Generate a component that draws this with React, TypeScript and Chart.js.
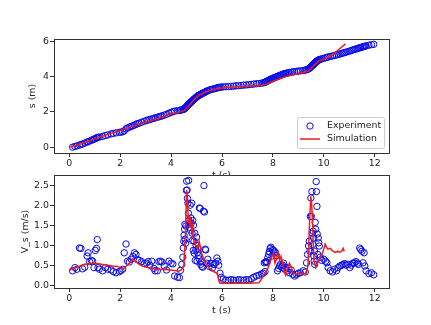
import React, { useEffect, useRef } from "react";
import { Chart, registerables } from "chart.js";
Chart.register(...registerables);

const xTicks = [0, 2, 4, 6, 8, 10, 12];
const sTicks = [0, 2, 4, 6];
const vTicks = [0, 0.5, 1, 1.5, 2, 2.5];

const expT = [
  0.13,0.22,0.30,0.40,0.46,0.52,0.61,0.70,0.74,0.80,
  0.87,0.92,0.97,1.02,1.07,1.10,1.13,1.18,1.31,1.42,
  1.51,1.64,1.73,1.84,1.97,2.03,2.10,2.16,2.23,2.29,
  2.36,2.43,2.50,2.56,2.62,2.68,2.75,2.84,2.95,3.04,
  3.10,3.17,3.24,3.32,3.37,3.46,3.52,3.58,3.64,3.73,
  3.82,3.92,4.00,4.07,4.14,4.25,4.33,4.37,4.42,4.46,
  4.48,4.50,4.51,4.53,4.54,4.55,4.57,4.58,4.60,4.61,
  4.63,4.64,4.66,4.68,4.69,4.70,4.72,4.73,4.75,4.76,
  4.78,4.79,4.81,4.82,4.84,4.85,4.87,4.88,4.90,4.91,
  4.93,4.95,4.97,4.98,5.00,5.02,5.04,5.06,5.08,5.10,
  5.11,5.14,5.16,5.18,5.21,5.24,5.27,5.29,5.31,5.34,
  5.36,5.40,5.44,5.50,5.56,5.62,5.68,5.74,5.80,5.84,
  5.87,5.92,5.97,6.05,6.15,6.25,6.35,6.45,6.55,6.65,
  6.75,6.85,6.95,7.05,7.15,7.25,7.35,7.45,7.55,7.62,
  7.66,7.69,7.71,7.74,7.77,7.80,7.83,7.86,7.89,7.92,
  7.96,7.98,8.02,8.06,8.10,8.14,8.18,8.22,8.26,8.30,
  8.34,8.38,8.42,8.46,8.50,8.55,8.60,8.65,8.72,8.78,
  8.85,8.93,9.00,9.08,9.19,9.27,9.32,9.36,9.40,9.43,
  9.45,9.47,9.49,9.51,9.53,9.55,9.57,9.58,9.60,9.61,
  9.62,9.63,9.64,9.66,9.68,9.70,9.71,9.73,9.74,9.76,
  9.78,9.80,9.82,9.86,9.92,10.00,10.07,10.12,10.17,10.25,
  10.34,10.42,10.50,10.56,10.63,10.70,10.76,10.82,10.88,10.95,
  11.02,11.08,11.14,11.20,11.26,11.32,11.36,11.41,11.45,11.50,
  11.54,11.58,11.61,11.66,11.77,11.87,11.96,
];

const expV = [
  0.36,0.44,0.40,0.93,0.92,0.41,0.45,0.73,0.81,0.59,
  0.62,0.60,0.44,0.87,0.92,1.14,0.44,0.40,0.36,0.44,
  0.40,0.38,0.34,0.31,0.34,0.37,0.40,0.81,1.03,0.60,
  0.58,0.65,0.72,0.81,0.77,0.64,0.62,0.59,0.54,0.55,
  0.59,0.50,0.60,0.42,0.36,0.36,0.59,0.60,0.58,0.48,
  0.38,0.60,0.55,0.53,0.23,0.20,0.19,0.37,0.52,0.70,
  0.93,1.10,1.25,1.40,1.52,1.15,1.05,1.48,2.37,2.60,
  2.38,2.17,2.05,1.80,2.62,1.62,1.45,1.55,2.00,1.38,
  1.68,1.55,2.05,1.30,1.12,1.62,0.87,1.50,1.10,0.80,
  1.30,0.62,0.88,1.00,1.20,0.60,0.82,0.92,0.74,0.66,
  1.93,1.92,0.52,0.58,0.47,0.45,1.85,2.49,1.83,0.90,
  0.88,0.55,0.65,0.47,0.55,0.43,0.52,0.55,0.68,0.60,
  0.50,0.30,0.20,0.15,0.13,0.12,0.14,0.13,0.12,0.14,
  0.13,0.12,0.14,0.13,0.16,0.20,0.23,0.25,0.28,0.30,
  0.56,0.34,0.58,0.59,0.57,0.69,0.77,0.84,0.92,0.95,
  0.73,0.89,0.87,0.84,0.81,0.74,0.36,0.42,0.48,0.52,
  0.45,0.50,0.55,0.40,0.45,0.36,0.42,0.31,0.38,0.27,
  0.23,0.27,0.30,0.31,0.36,0.33,0.56,0.77,0.98,1.10,
  0.85,1.72,2.18,1.72,2.34,1.30,1.02,1.35,1.18,0.73,
  0.60,0.85,0.52,1.57,1.40,2.59,2.34,1.97,1.28,0.77,
  1.18,1.06,0.98,0.70,0.62,0.65,0.60,0.56,0.44,0.36,
  0.33,0.40,0.36,0.44,0.48,0.50,0.52,0.54,0.50,0.52,
  0.44,0.50,0.55,0.56,0.59,0.55,0.52,0.93,0.89,0.85,
  0.56,0.81,0.48,0.36,0.29,0.31,0.26,
];

const expS = [
  0.01,0.05,0.08,0.13,0.16,0.19,0.24,0.30,0.32,0.36,
  0.40,0.43,0.46,0.50,0.53,0.55,0.57,0.58,0.62,0.67,
  0.70,0.76,0.79,0.82,0.85,0.86,0.88,0.93,1.05,1.10,
  1.14,1.18,1.22,1.26,1.30,1.34,1.37,1.42,1.48,1.52,
  1.55,1.58,1.61,1.64,1.67,1.70,1.73,1.75,1.78,1.82,
  1.87,1.93,1.98,2.02,2.05,2.08,2.09,2.10,2.12,2.14,
  2.15,2.16,2.17,2.19,2.21,2.22,2.24,2.26,2.29,2.31,
  2.34,2.36,2.39,2.42,2.44,2.45,2.48,2.50,2.52,2.53,
  2.56,2.57,2.60,2.61,2.64,2.65,2.68,2.69,2.72,2.73,
  2.76,2.78,2.81,2.82,2.85,2.87,2.89,2.91,2.93,2.95,
  2.96,2.98,3.00,3.01,3.04,3.06,3.08,3.09,3.11,3.13,
  3.15,3.18,3.20,3.24,3.27,3.29,3.31,3.33,3.36,3.38,
  3.39,3.40,3.41,3.42,3.43,3.44,3.45,3.46,3.48,3.49,
  3.50,3.52,3.53,3.55,3.56,3.58,3.60,3.61,3.63,3.65,
  3.67,3.68,3.70,3.72,3.74,3.77,3.79,3.81,3.84,3.86,
  3.88,3.89,3.92,3.94,3.97,3.99,4.01,4.03,4.06,4.08,
  4.11,4.13,4.15,4.17,4.18,4.20,4.22,4.23,4.25,4.27,
  4.28,4.30,4.31,4.33,4.35,4.37,4.39,4.41,4.44,4.47,
  4.49,4.52,4.55,4.58,4.61,4.63,4.66,4.67,4.70,4.71,
  4.73,4.74,4.76,4.79,4.82,4.84,4.86,4.88,4.89,4.91,
  4.93,4.94,4.96,4.98,5.01,5.04,5.07,5.09,5.11,5.14,
  5.17,5.20,5.23,5.26,5.28,5.31,5.34,5.36,5.39,5.42,
  5.45,5.48,5.51,5.54,5.56,5.59,5.61,5.63,5.65,5.67,
  5.69,5.71,5.72,5.74,5.78,5.81,5.83,
];

const simST = [0, 0.5, 1.0, 1.5, 2.0, 2.5, 3.0, 3.5, 4.0, 4.4, 4.55, 4.7, 4.9, 5.1, 5.3, 5.6, 6.0, 6.5, 7.0, 7.5, 7.7, 8.0, 8.5, 9.0, 9.4, 9.6, 9.8, 10.0, 10.3, 10.6, 10.85];
const simS = [0, 0.22, 0.48, 0.73, 0.96, 1.2, 1.42, 1.63, 1.9, 2.02, 2.1, 2.35, 2.7, 2.95, 3.1, 3.25, 3.36, 3.41, 3.46, 3.5, 3.55, 3.74, 4.0, 4.18, 4.32, 4.62, 4.88, 5.0, 5.2, 5.55, 5.85];

const simVT = [
  0, 0.15, 0.3, 0.5, 0.7, 0.9, 1.1, 1.3, 1.5, 1.7,
  1.9, 2.0, 2.1, 2.2, 2.35, 2.5, 2.6, 2.75, 2.9, 3.1,
  3.4, 3.7, 4.0, 4.3, 4.4, 4.5, 4.56, 4.61, 4.64, 4.68,
  4.71, 4.74, 4.77, 4.8, 4.83, 4.86, 4.9, 4.95, 5.0, 5.05,
  5.1, 5.15, 5.2, 5.3, 5.4, 5.55, 5.7, 5.82, 5.88, 5.92,
  6.5, 7.0, 7.45, 7.6, 7.75, 7.85, 7.95, 8.02, 8.08, 8.14,
  8.2, 8.26, 8.32, 8.38, 8.44, 8.5, 8.58, 8.65, 8.72, 8.8,
  8.9, 9.1, 9.3, 9.38, 9.44, 9.49, 9.52, 9.55, 9.58, 9.62,
  9.68, 9.75, 9.85, 9.95, 10.05, 10.15, 10.25, 10.35, 10.45, 10.55,
  10.62, 10.7, 10.76, 10.8,
];
const simV = [
  0.37, 0.42, 0.45, 0.5, 0.53, 0.55, 0.54, 0.52, 0.5, 0.48,
  0.47, 0.44, 0.4, 0.45, 0.55, 0.66, 0.6, 0.52, 0.47, 0.44,
  0.4, 0.39, 0.38, 0.35, 0.38, 0.5, 1.2, 2.38, 2.2, 1.55,
  1.72, 1.45, 1.62, 1.4, 1.5, 1.2, 1.1, 1.0, 0.98, 0.92,
  1.1, 0.95, 0.8, 0.62, 0.5, 0.4, 0.33, 0.3, 0.1, 0.05,
  0.05, 0.05, 0.06, 0.2, 0.35, 0.5, 0.7, 0.8, 0.55, 0.65,
  0.82, 0.62, 0.72, 0.55, 0.35, 0.25, 0.45, 0.55, 0.45, 0.3,
  0.28, 0.3, 0.28, 0.5, 1.6, 2.22, 2.05, 1.7, 1.1, 0.6,
  0.44, 0.55, 0.7, 0.8, 1.03, 0.9, 0.92, 0.85, 0.82, 0.85,
  0.82, 0.85, 0.92, 0.84,
];

const BLUE = "#0a0ae6";
const RED = "#ee1c1c";
const FONT = "'DejaVu Sans', sans-serif";
const FS = 9.4;

function pts(xs: number[], ys: number[]) {
  return xs.map((x, i) => ({ x, y: ys[i] }));
}

function framePlugin(fillWhite: boolean) {
  return {
    id: "frame" + (fillWhite ? "W" : ""),
    beforeDraw(chart: any) {
      if (!fillWhite) return;
      const { left, top, right, bottom } = chart.chartArea;
      const ctx = chart.ctx;
      ctx.save();
      ctx.fillStyle = "#ffffff";
      ctx.fillRect(left, top, right - left, bottom - top);
      ctx.restore();
    },
    afterDraw(chart: any) {
      const { left, top, right, bottom } = chart.chartArea;
      const ctx = chart.ctx;
      ctx.save();
      ctx.strokeStyle = "#333333";
      ctx.lineWidth = 1;
      ctx.strokeRect(Math.round(left) + 0.5, Math.round(top) + 0.5, Math.round(right - left), Math.round(bottom - top));
      ctx.restore();
    },
  };
}

const legendPlugin = {
  id: "boxLegend",
  afterDraw(chart: any) {
    const ctx = chart.ctx;
    const { right, bottom } = chart.chartArea;
    const bw = 87, bh = 31;
    const bx = Math.round(right - 5 - bw), by = Math.round(bottom - 5 - bh);
    ctx.save();
    ctx.beginPath();
    if (ctx.roundRect) ctx.roundRect(bx + 0.5, by + 0.5, bw, bh, 2);
    else ctx.rect(bx + 0.5, by + 0.5, bw, bh);
    ctx.fillStyle = "rgba(255,255,255,0.85)";
    ctx.fill();
    ctx.strokeStyle = "#cccccc";
    ctx.lineWidth = 1;
    ctx.stroke();
    const y1 = by + 9, y2 = by + 22;
    ctx.beginPath();
    ctx.arc(bx + 13, y1, 3.2, 0, Math.PI * 2);
    ctx.strokeStyle = BLUE;
    ctx.stroke();
    ctx.beginPath();
    ctx.moveTo(bx + 3, y2);
    ctx.lineTo(bx + 23, y2);
    ctx.strokeStyle = RED;
    ctx.lineWidth = 1.5;
    ctx.stroke();
    ctx.fillStyle = "#222222";
    ctx.font = `${FS}px ${FONT}`;
    ctx.textBaseline = "middle";
    ctx.textAlign = "left";
    ctx.fillText("Experiment", bx + 30, y1);
    ctx.fillText("Simulation", bx + 30, y2);
    ctx.restore();
  },
};

function xScale(titlePadBottom: number) {
  return {
    type: "linear" as const,
    min: -0.6,
    max: 12.56,
    afterBuildTicks: (s: any) => { s.ticks = xTicks.map((v) => ({ value: v })); },
    afterFit: (s: any) => { s.height = 37; },
    grid: { drawOnChartArea: false, drawTicks: true, tickLength: 4, tickColor: "#333333" },
    border: { display: false },
    ticks: { color: "#222222", font: { family: FONT, size: FS }, padding: 1, maxRotation: 0, callback: (v: any) => String(v) },
    title: { display: true, text: "t (s)", color: "#222222", font: { family: FONT, size: FS }, padding: { top: 0, bottom: titlePadBottom } },
  };
}

function yScale(min: number, max: number, ticks: number[], label: string, padTop: number, digits: number) {
  return {
    type: "linear" as const,
    min,
    max,
    afterBuildTicks: (s: any) => { s.ticks = ticks.map((v) => ({ value: v })); },
    afterFit: (s: any) => { s.width = 54; },
    grid: { drawOnChartArea: false, drawTicks: true, tickLength: 4, tickColor: "#333333" },
    border: { display: false },
    ticks: { color: "#222222", font: { family: FONT, size: FS }, padding: 1, callback: (v: any) => Number(v).toFixed(digits) },
    title: { display: true, text: label, color: "#222222", font: { family: FONT, size: FS }, padding: { top: padTop, bottom: 0 } },
  };
}

export default function App() {
  const topRef = useRef<HTMLCanvasElement>(null);
  const botRef = useRef<HTMLCanvasElement>(null);

  useEffect(() => {
    const common = {
      responsive: false,
      animation: false as const,
      events: [] as any[],
      devicePixelRatio: 1,
    };
    const c1 = new Chart(topRef.current!, {
      type: "scatter",
      data: {
        datasets: [
          {
            label: "Experiment",
            data: pts(expT, expS),
            showLine: false,
            pointRadius: 3.2,
            pointBorderWidth: 1,
            borderColor: BLUE,
            backgroundColor: "rgba(0,0,0,0)",
            pointBackgroundColor: "rgba(0,0,0,0)",
            pointBorderColor: BLUE,
            order: 2,
          },
          {
            label: "Simulation",
            data: pts(simST, simS),
            showLine: true,
            pointRadius: 0,
            borderColor: RED,
            borderWidth: 1.5,
            tension: 0,
            fill: false,
            order: 1,
          },
        ],
      },
      options: {
        ...common,
        layout: { padding: { left: 0, top: 39, right: 42, bottom: 0 } },
        plugins: { legend: { display: false }, tooltip: { enabled: false } },
        scales: {
          x: xScale(9),
          y: yScale(-0.32, 6.13, sTicks, "s (m)", 27, 0),
        },
      } as any,
      plugins: [framePlugin(false), legendPlugin],
    });

    const c2 = new Chart(botRef.current!, {
      type: "scatter",
      data: {
        datasets: [
          {
            label: "Experiment",
            data: pts(expT, expV),
            showLine: false,
            pointRadius: 3.2,
            pointBorderWidth: 1,
            borderColor: BLUE,
            backgroundColor: "rgba(0,0,0,0)",
            pointBackgroundColor: "rgba(0,0,0,0)",
            pointBorderColor: BLUE,
            order: 2,
          },
          {
            label: "Simulation",
            data: pts(simVT, simV),
            showLine: true,
            pointRadius: 0,
            borderColor: RED,
            borderWidth: 1.5,
            tension: 0,
            fill: false,
            order: 1,
          },
        ],
      },
      options: {
        ...common,
        layout: { padding: { left: 0, top: 10, right: 42, bottom: 0 } },
        plugins: { legend: { display: false }, tooltip: { enabled: false } },
        scales: {
          x: xScale(9),
          y: yScale(-0.07, 2.755, vTicks, "V_s (m/s)", 19.5, 1),
        },
      } as any,
      plugins: [framePlugin(true)],
    });

    return () => {
      c1.destroy();
      c2.destroy();
    };
  }, []);

  return (
    <div style={{ position: "fixed", left: 0, top: 0, width: 431, height: 325, background: "#ffffff", overflow: "hidden" }}>
      <canvas ref={topRef} width={431} height={190} style={{ position: "absolute", left: 0, top: 0, width: 431, height: 190 }} />
      <canvas ref={botRef} width={431} height={160} style={{ position: "absolute", left: 0, top: 165, width: 431, height: 160 }} />
    </div>
  );
}
